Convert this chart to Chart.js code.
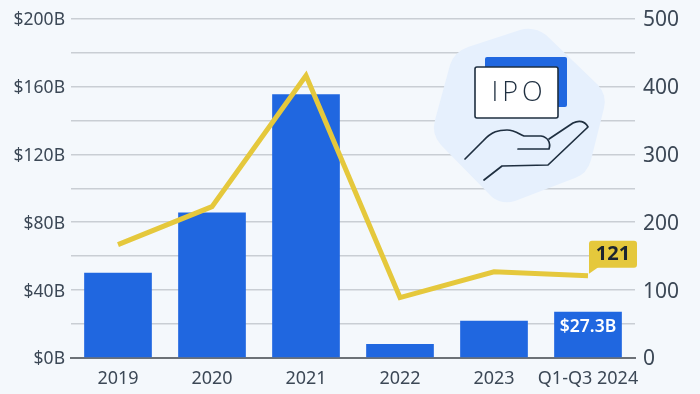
<!DOCTYPE html>
<html>
<head>
<meta charset="utf-8">
<style>
  html, body { margin: 0; padding: 0; background: #f4f8fc; }
  #wrap { width: 700px; height: 394px; }
</style>
<script src="https://cdn.jsdelivr.net/npm/chart.js@4/dist/chart.umd.min.js"></script>
</head>
<body>
<div id="wrap"><canvas id="chart" width="700" height="394"></canvas></div>
<script>
var categories = ['2019', '2020', '2021', '2022', '2023', 'Q1-Q3 2024'];
var proceeds = [50.2, 85.7, 155.4, 8.3, 21.9, 27.3];
var ipoCounts = [167, 223, 416, 89, 127, 121];
var proceedsLabels = { 0: '$0B', 40: '$40B', 80: '$80B', 120: '$120B', 160: '$160B', 200: '$200B' };
var lastProceedsLabel = '$27.3B';
var lastCountLabel = '121';

var textColor = '#3c4856';
var blue = '#2067e0';
var yellow = '#e5c83c';
var inkColor = '#1f2f40';

// labels on the last bar and last line point
var labelsPlugin = {
  id: 'labelsPlugin',
  afterDatasetsDraw: function (chart) {
    var ctx = chart.ctx;
    var last = categories.length - 1;
    var bar = chart.getDatasetMeta(1).data[last];
    var point = chart.getDatasetMeta(0).data[last];
    ctx.save();
    ctx.textAlign = 'center';
    ctx.textBaseline = 'middle';
    ctx.fillStyle = '#ffffff';
    ctx.font = '600 17.5px "Noto Sans"';
    ctx.fillText(lastProceedsLabel, bar.x, bar.y + 15);

    var left = point.x + 1;
    var top = point.y - 35;
    ctx.fillStyle = yellow;
    ctx.beginPath();
    ctx.roundRect(left, top, 48, 27, 3);
    ctx.fill();
    ctx.beginPath();
    ctx.moveTo(left, top + 20);
    ctx.lineTo(left, point.y - 2);
    ctx.lineTo(left + 10, top + 26);
    ctx.closePath();
    ctx.fill();
    ctx.fillStyle = '#1c2530';
    ctx.font = '700 20px "Noto Sans"';
    ctx.fillText(lastCountLabel, left + 24, top + 13);
    ctx.restore();
  }
};

// IPO illustration, top right
var iconPlugin = {
  id: 'iconPlugin',
  afterDatasetsDraw: function (chart) {
    var ctx = chart.ctx;
    ctx.save();
    ctx.fillStyle = '#e6f0fd';
    ctx.beginPath();
    ctx.moveTo(520, 30);
    ctx.quadraticCurveTo(534, 26, 546, 35);
    ctx.lineTo(598, 85);
    ctx.quadraticCurveTo(607, 95, 604, 108);
    ctx.lineTo(591, 160);
    ctx.quadraticCurveTo(587, 174, 575, 178);
    ctx.lineTo(515, 201);
    ctx.quadraticCurveTo(502, 205, 492, 197);
    ctx.lineTo(441, 145);
    ctx.quadraticCurveTo(431, 134, 435, 120);
    ctx.lineTo(450, 65);
    ctx.quadraticCurveTo(454, 52, 468, 47);
    ctx.closePath();
    ctx.fill();

    ctx.fillStyle = blue;
    ctx.beginPath();
    ctx.roundRect(485, 57, 82, 50, 2);
    ctx.fill();

    ctx.fillStyle = '#ffffff';
    ctx.strokeStyle = inkColor;
    ctx.lineWidth = 1.6;
    ctx.beginPath();
    ctx.roundRect(475, 67, 83, 51, 2);
    ctx.fill();
    ctx.stroke();

    ctx.fillStyle = inkColor;
    ctx.font = '300 27px "Open Sans"';
    ctx.letterSpacing = '4px';
    ctx.textAlign = 'center';
    ctx.textBaseline = 'middle';
    ctx.fillText('IPO', 519, 93);
    ctx.letterSpacing = '0px';

    ctx.lineJoin = 'round';
    ctx.lineCap = 'round';
    ctx.lineWidth = 1.7;
    ctx.beginPath();
    ctx.moveTo(465, 159);
    ctx.lineTo(483, 141);
    ctx.bezierCurveTo(492, 131, 499, 130, 507, 130);
    ctx.bezierCurveTo(515, 130, 519, 134, 524, 136);
    ctx.lineTo(541, 136);
    ctx.bezierCurveTo(548, 137, 551, 143, 549, 149);
    ctx.lineTo(518, 149);
    ctx.stroke();
    ctx.beginPath();
    ctx.moveTo(549, 139);
    ctx.lineTo(573, 123);
    ctx.bezierCurveTo(579, 120, 585, 121, 588, 127);
    ctx.lineTo(548, 165);
    ctx.lineTo(502, 166);
    ctx.lineTo(484, 180);
    ctx.stroke();
    ctx.restore();
  }
};

new Chart(document.getElementById('chart'), {
  data: {
    labels: categories,
    datasets: [
      {
        type: 'line',
        data: ipoCounts,
        yAxisID: 'y1',
        order: 0,
        borderColor: yellow,
        borderWidth: 5,
        pointRadius: 0,
        tension: 0,
        borderJoinStyle: 'miter'
      },
      {
        type: 'bar',
        data: proceeds,
        yAxisID: 'y',
        order: 1,
        backgroundColor: blue,
        barPercentage: 0.72,
        categoryPercentage: 1
      }
    ]
  },
  options: {
    responsive: false,
    animation: false,
    layout: { autoPadding: false, padding: { top: 18.5, right: 0, bottom: 0, left: 0 } },
    plugins: {
      legend: { display: false },
      tooltip: { enabled: false }
    },
    scales: {
      x: {
        grid: { display: false },
        border: { color: '#6c7177', width: 2 },
        ticks: { color: textColor, font: { family: 'Noto Sans', size: 18 }, padding: 2, maxRotation: 0, autoSkip: false },
        afterFit: function (scale) { scale.height = 36; scale.paddingLeft = 0; scale.paddingRight = 0; }
      },
      y: {
        position: 'left',
        min: 0,
        max: 200,
        border: { display: false },
        grid: { color: '#c9ced4', lineWidth: 1.5, drawTicks: false },
        ticks: {
          stepSize: 20,
          padding: 6,
          labelOffset: 1.5,
          color: textColor,
          font: { family: 'Noto Sans', size: 17.5 },
          callback: function (value) { return proceedsLabels[value] || ''; }
        },
        afterFit: function (scale) { scale.width = 71; scale.paddingTop = 0; scale.paddingBottom = 0; }
      },
      y1: {
        position: 'right',
        min: 0,
        max: 500,
        border: { display: false },
        grid: { display: false, drawOnChartArea: false, drawTicks: false },
        ticks: {
          stepSize: 100,
          padding: 8,
          labelOffset: 1.5,
          color: textColor,
          font: { family: 'Noto Sans', size: 21 }
        },
        afterFit: function (scale) { scale.width = 65; scale.paddingTop = 0; scale.paddingBottom = 0; }
      }
    }
  },
  plugins: [
    iconPlugin,
    labelsPlugin,
    {
      id: 'background',
      beforeDraw: function (chart) {
        chart.ctx.save();
        chart.ctx.fillStyle = '#f4f8fc';
        chart.ctx.fillRect(0, 0, chart.width, chart.height);
        chart.ctx.restore();
      }
    }
  ]
});
</script>
</body>
</html>
